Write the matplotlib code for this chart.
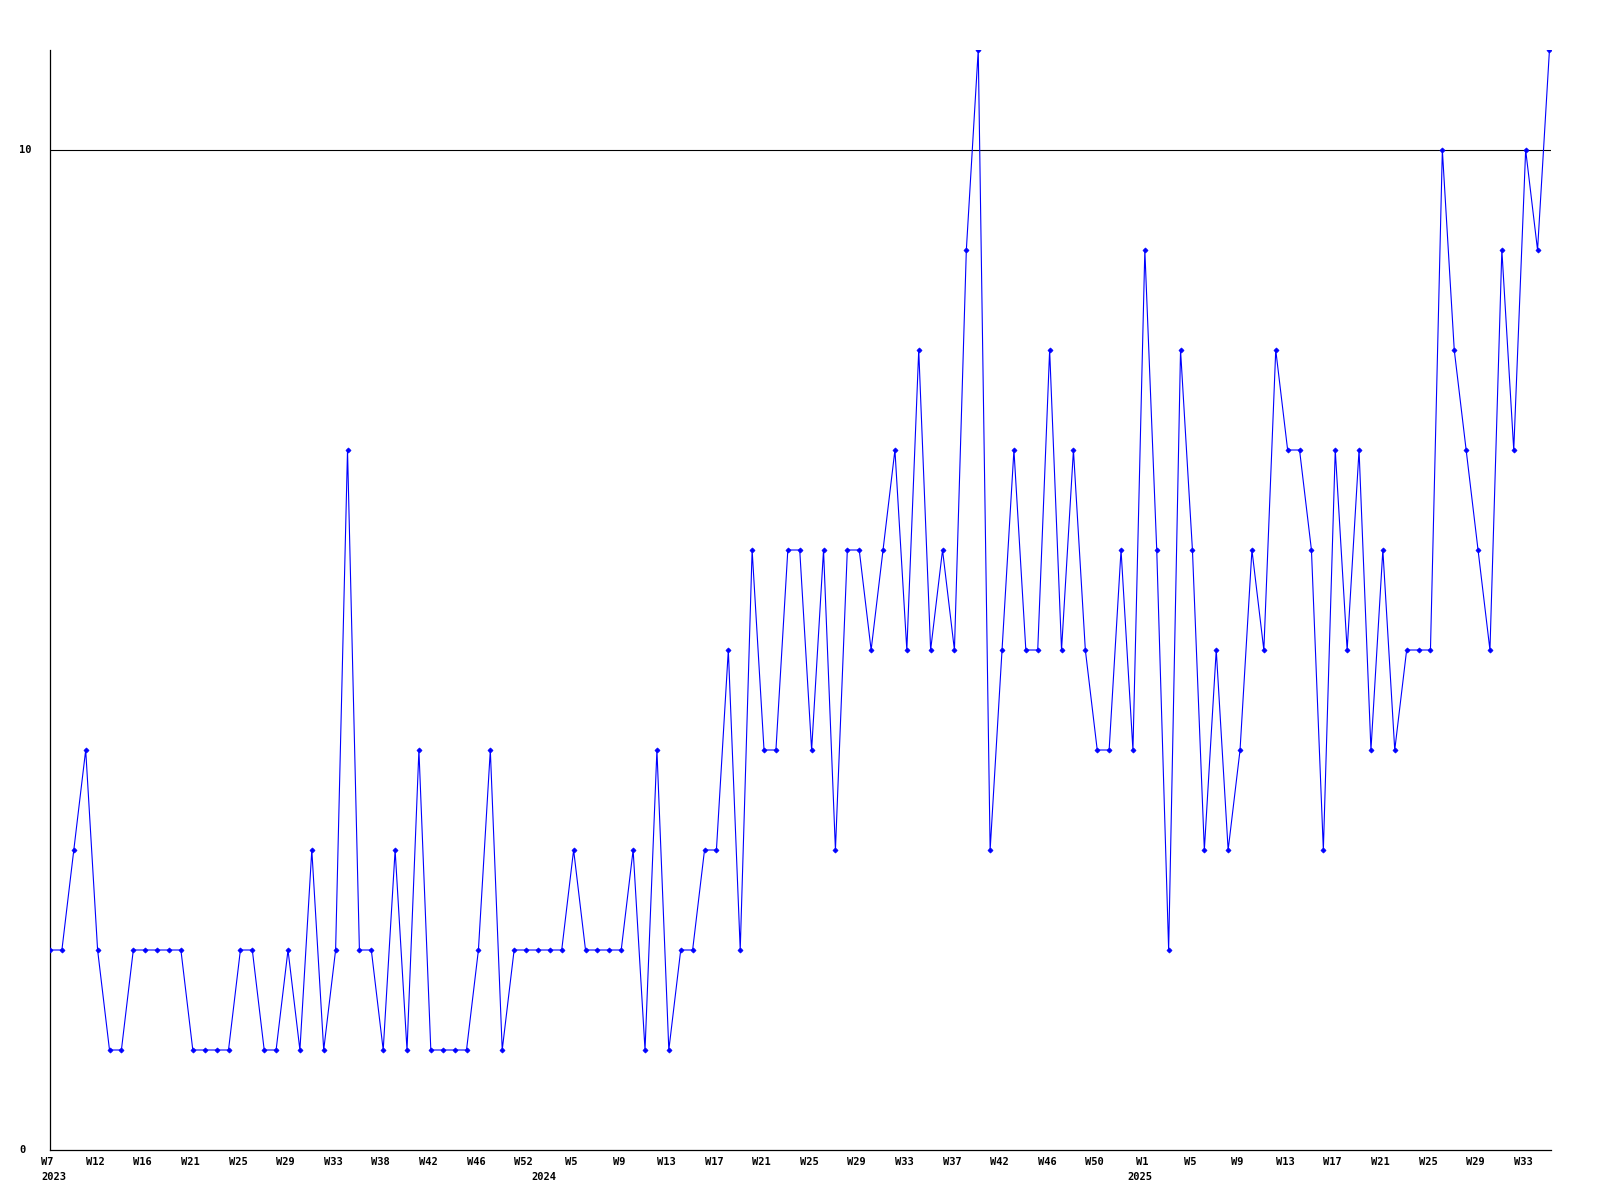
import matplotlib
matplotlib.use("Agg")
import matplotlib.pyplot as plt
import matplotlib.transforms as mtransforms

values = [2, 2, 3, 4, 2, 1, 1, 2, 2, 2, 2, 2, 1, 1, 1, 1, 2, 2, 1, 1,
          2, 1, 3, 1, 2, 7, 2, 2, 1, 3, 1, 4, 1, 1, 1, 1, 2, 4, 1, 2,
          2, 2, 2, 2, 3, 2, 2, 2, 2, 3, 1, 4, 1, 2, 2, 3, 3, 5, 2, 6,
          4, 4, 6, 6, 4, 6, 3, 6, 6, 5, 6, 7, 5, 8, 5, 6, 5, 9, 11, 3,
          5, 7, 5, 5, 8, 5, 7, 5, 4, 4, 6, 4, 9, 6, 2, 8, 6, 3, 5, 3,
          4, 6, 5, 8, 7, 7, 6, 3, 7, 5, 7, 4, 6, 4, 5, 5, 5, 10, 8, 7,
          6, 5, 9, 7, 10, 9, 11]

week_labels = ["W7", "W12", "W16", "W21", "W25", "W29", "W33", "W38", "W42",
               "W46", "W52", "W5", "W9", "W13", "W17", "W21", "W25", "W29",
               "W33", "W37", "W42", "W46", "W50", "W1", "W5", "W9", "W13",
               "W17", "W21", "W25", "W29", "W33"]
label_every = 4
year_labels = ["2023", "2024", "2025"]
year_pos = [0.3, 41.5, 91.6]
y_ticks = [0, 10]

fig = plt.figure(figsize=(16, 12), dpi=100)
ax = fig.add_axes([50 / 1600, 50 / 1200, 1501 / 1600, 1100 / 1200])

x = list(range(len(values)))
ax.plot(x, values, color="#0000ff", linewidth=0.8, marker="D",
        markersize=2.6, markerfacecolor="#0000ff", markeredgecolor="#0000ff",
        markeredgewidth=0.5, zorder=3)

ax.set_xlim(0, 126.13)
ax.set_ylim(0, 11)
ax.axhline(10, color="black", linewidth=0.8, zorder=1)

for s in ["top", "right"]:
    ax.spines[s].set_visible(False)
for s in ["left", "bottom"]:
    ax.spines[s].set_color("black")
    ax.spines[s].set_linewidth(0.9)

ax.set_xticks([])
ax.set_yticks([])

font = dict(family="DejaVu Sans Mono", weight="bold", size=7.5)

# y tick labels
trans_y = mtransforms.blended_transform_factory(fig.transFigure, ax.transData)
for v in y_ticks:
    ax.text(19.5 / 1600, v, str(v), transform=trans_y, ha="left",
            va="center", **font)

# week labels
trans_x = mtransforms.blended_transform_factory(ax.transData, fig.transFigure)
for i, lab in enumerate(week_labels):
    ax.text(i * label_every - 0.2, 1 - 1162 / 1200, lab, transform=trans_x,
            ha="center", va="center", **font)
for p, lab in zip(year_pos, year_labels):
    ax.text(p, 1 - 1177 / 1200, lab, transform=trans_x, ha="center",
            va="center", **font)

fig.savefig("out.png", dpi=100, facecolor="white")
